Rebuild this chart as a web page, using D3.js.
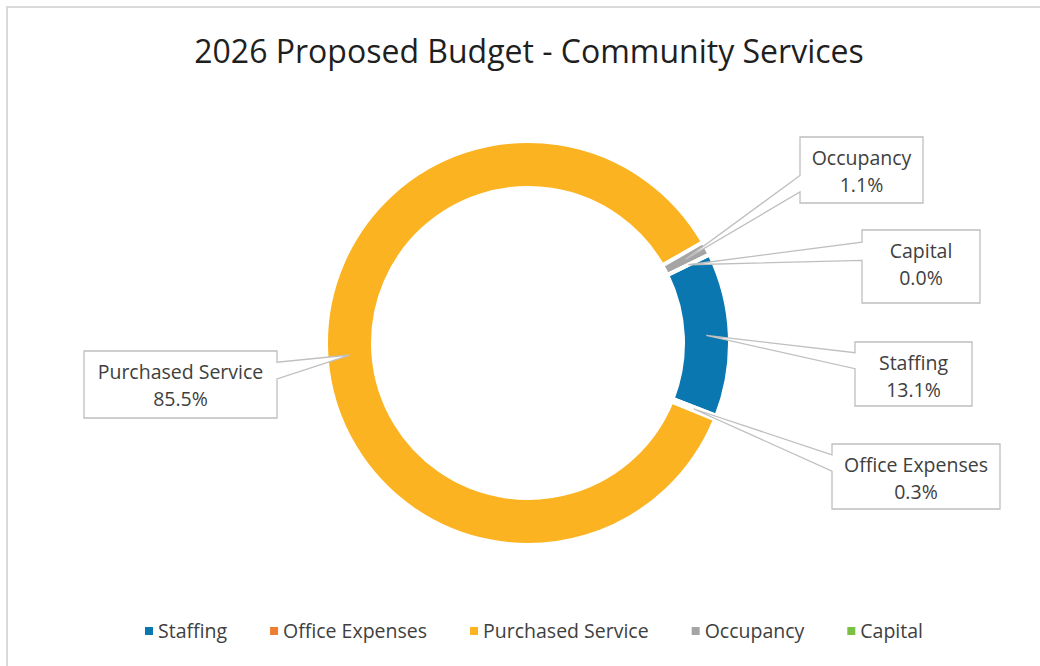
<!DOCTYPE html>
<html>
<head>
<meta charset="utf-8">
<script src="https://cdn.jsdelivr.net/npm/d3@7/dist/d3.min.js"></script>
<style>
    body { margin: 0; background: #fff; }
    text { font-family: "Open Sans", sans-serif; }
</style>
</head>
<body>
<div id="chart"></div>
<script>
// data
var categories = ["Staffing", "Office Expenses", "Purchased Service", "Occupancy", "Capital"];
var shares = [13.1, 0.3, 85.5, 1.1, 0.0];
var shareLabels = ["13.1%", "0.3%", "85.5%", "1.1%", "0.0%"];
var sliceColors = ["#0a77b0", "#ed7d31", "#fcb321", "#a5a5a5", "#7ac143"];
var title = "2026 Proposed Budget - Community Services";

// callout boxes (layout only)
var calloutBoxes = {
    "Staffing": {x: 855, y: 342, w: 117, h: 64},
    "Office Expenses": {x: 832, y: 444, w: 168, h: 65},
    "Purchased Service": {x: 84, y: 351, w: 193, h: 67},
    "Occupancy": {x: 800, y: 137, w: 123, h: 66},
    "Capital": {x: 862, y: 230, w: 118, h: 73}
};

var width = 1040, height = 666;
var cx = 528, cy = 343, outerR = 202, innerR = 155;
var firstAngle = 64 * Math.PI / 180;
var labelSize = 19.5;

var svg = d3.select("#chart")
    .append("svg")
    .attr("width", width)
    .attr("height", height);

// chart frame
svg.append("rect")
    .attr("x", 7)
    .attr("y", 7)
    .attr("width", width + 20)
    .attr("height", height + 20)
    .attr("fill", "#fff")
    .attr("stroke", "#d9d9d9")
    .attr("stroke-width", 2);

svg.append("text")
    .attr("x", 529)
    .attr("y", 63)
    .attr("text-anchor", "middle")
    .attr("font-size", 32)
    .attr("fill", "#1f1f1f")
    .text(title);

var color = d3.scaleOrdinal().domain(categories).range(sliceColors);

var pie = d3.pie()
    .sort(null)
    .value(function (d) { return d.value; })
    .startAngle(firstAngle)
    .endAngle(firstAngle + 2 * Math.PI);

var data = categories.map(function (c, i) {
    return {name: c, value: shares[i], label: shareLabels[i]};
});
var arcs = pie(data);

var arc = d3.arc().innerRadius(innerR).outerRadius(outerR);
var mid = d3.arc().innerRadius((innerR + outerR) / 2).outerRadius((innerR + outerR) / 2);

var g = svg.append("g")
    .attr("transform", "translate(" + cx + "," + cy + ")");

g.selectAll("path.slice")
    .data(arcs)
    .enter()
    .append("path")
    .attr("class", "slice")
    .attr("d", arc)
    .attr("fill", function (d) { return color(d.data.name); })
    .attr("stroke", "#fff")
    .attr("stroke-width", 4);

// callout shape: box with a wedge pointing to the slice
function calloutPath(b, tx, ty) {
    var l = b.x, t = b.y, r = b.x + b.w, btm = b.y + b.h;
    var above = ty < b.y + b.h / 2;
    var y1 = above ? t + b.h * 2 / 12 : t + b.h * 7 / 12;
    var y2 = above ? t + b.h * 5 / 12 : t + b.h * 10 / 12;
    if (tx < l) {
        return "M" + l + "," + t + "H" + r + "V" + btm + "H" + l +
            "V" + y2 + "L" + tx + "," + ty + "L" + l + "," + y1 + "Z";
    }
    return "M" + l + "," + t + "H" + r + "V" + y1 + "L" + tx + "," + ty +
        "L" + r + "," + y2 + "V" + btm + "H" + l + "Z";
}

var callouts = svg.selectAll("g.callout")
    .data(arcs)
    .enter()
    .append("g")
    .attr("class", "callout");

callouts.append("path")
    .attr("d", function (d) {
        var c = mid.centroid(d);
        return calloutPath(calloutBoxes[d.data.name], cx + c[0], cy + c[1]);
    })
    .attr("fill", "#fff")
    .attr("stroke", "#bfbfbf")
    .attr("stroke-width", 1.3);

callouts.append("text")
    .attr("x", function (d) { var b = calloutBoxes[d.data.name]; return b.x + b.w / 2; })
    .attr("y", function (d) { return calloutBoxes[d.data.name].y + 28; })
    .attr("text-anchor", "middle")
    .attr("font-size", labelSize)
    .attr("fill", "#404040")
    .text(function (d) { return d.data.name; });

callouts.append("text")
    .attr("x", function (d) { var b = calloutBoxes[d.data.name]; return b.x + b.w / 2; })
    .attr("y", function (d) { return calloutBoxes[d.data.name].y + 55; })
    .attr("text-anchor", "middle")
    .attr("font-size", labelSize)
    .attr("fill", "#404040")
    .text(function (d) { return d.data.label; });

// legend
var legend = svg.append("g");
var items = legend.selectAll("g")
    .data(categories)
    .enter()
    .append("g");
items.append("rect")
    .attr("y", -11)
    .attr("width", 8)
    .attr("height", 8)
    .attr("fill", function (d) { return color(d); });
items.append("text")
    .attr("x", 13)
    .attr("font-size", labelSize)
    .attr("fill", "#404040")
    .text(function (d) { return d; });

var xpos = 0;
items.each(function () {
    var w = this.querySelector("text").getComputedTextLength() + 13;
    d3.select(this).attr("transform", "translate(" + xpos + ",0)");
    xpos += w + 43;
});
xpos -= 43;
legend.attr("transform", "translate(" + (534 - xpos / 2) + ",638)");
</script>
</body>
</html>
